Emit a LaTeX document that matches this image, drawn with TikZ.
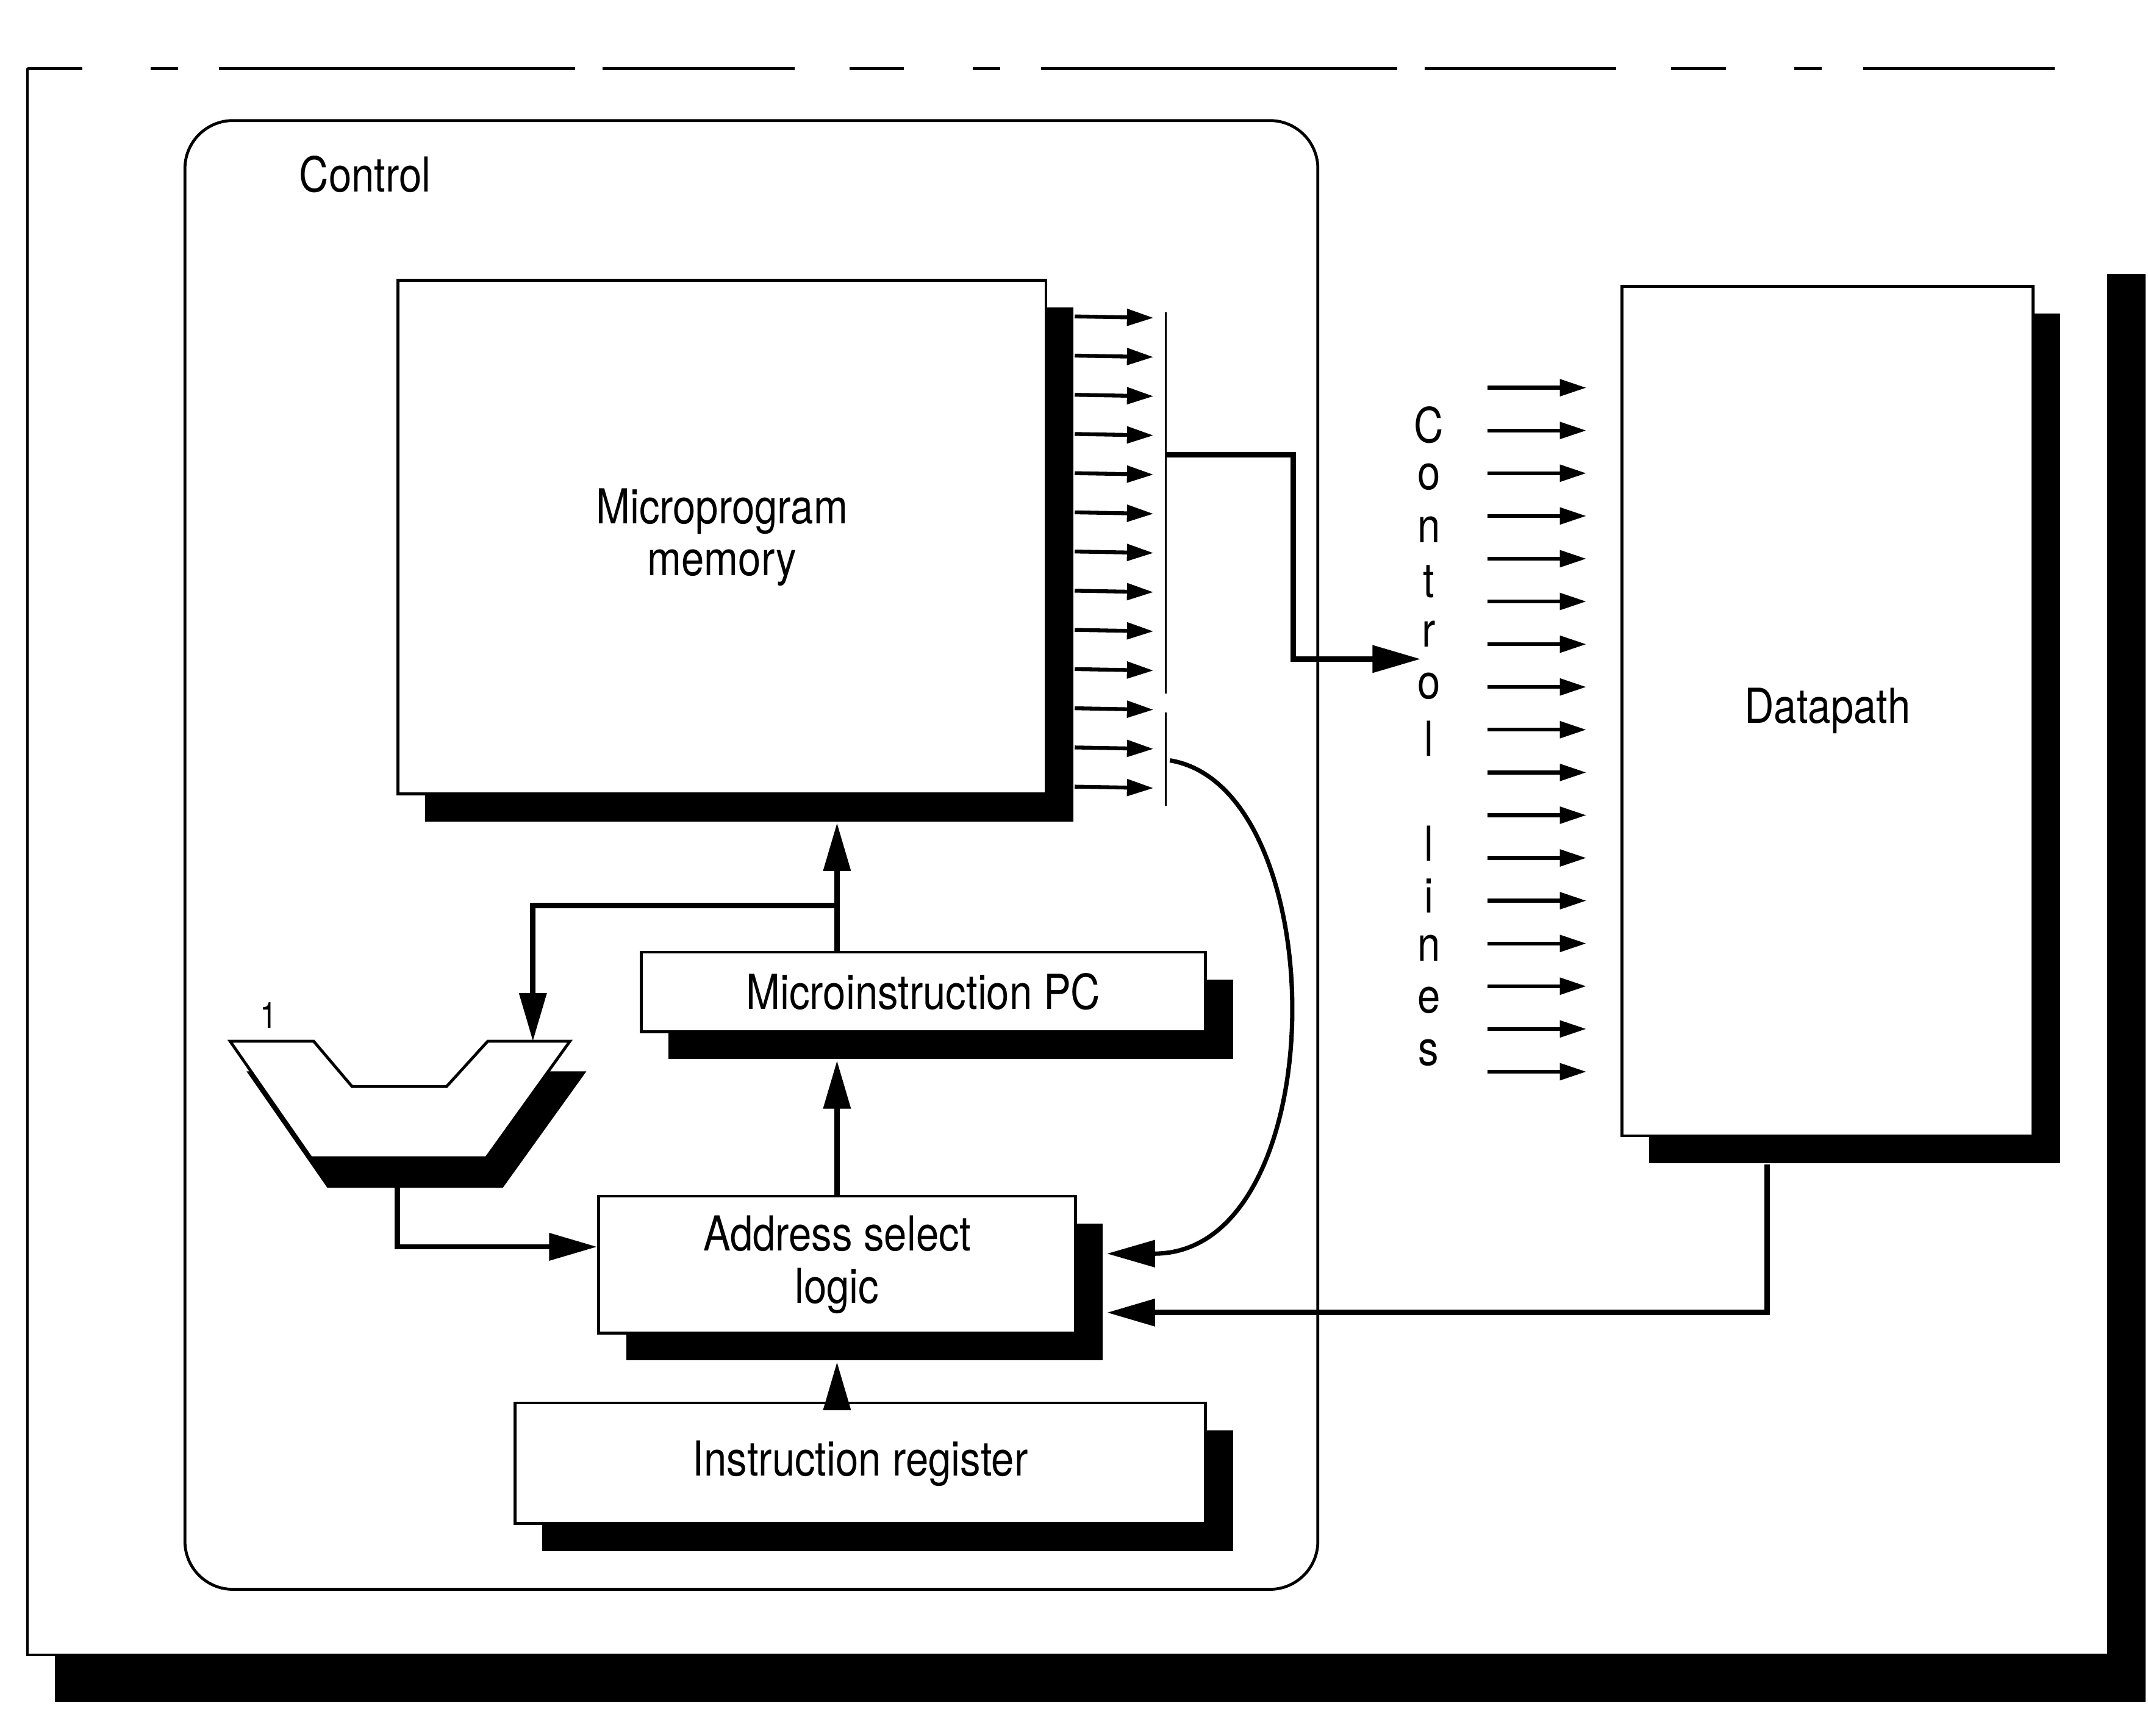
\documentclass[tikz,border=0pt]{standalone}
\usepackage{fontspec}
\setmainfont{TeX Gyre Heros}[FakeStretch=0.85]
\usetikzlibrary{arrows.meta, shadows, calc}

\newcommand{\mux}[2]{%
  % #1 = top left corner, #2 = shadow offset
  \begin{scope}[shift={#1}]
    \fill[black, shift={#2}]
      (0,0) -- (61,0) -- (89,33) -- (158,33) -- (188,0) -- (248,0) -- (187,85) -- (59,85) -- cycle;
    \draw[fill=white, line width=0.6pt]
      (0,0) -- (61,0) -- (89,33) -- (158,33) -- (188,0) -- (248,0) -- (187,85) -- (59,85) -- cycle;
  \end{scope}
}

\begin{document}
\begin{tikzpicture}[x=0.1mm, y=-0.1mm,
  every node/.style={font=\fontsize{10}{10.8}\selectfont},
  unit/.style={draw, line width=0.6pt, fill=white, inner sep=0pt, align=center,
               drop shadow={shadow xshift=2mm, shadow yshift=-2mm, fill=black, opacity=1}},
  wire/.style={line width=1.1pt, -{Triangle[length=10pt, width=5.5pt]}},
  ctlarrow/.style={line width=0.8pt, -{Triangle[length=5.5pt, width=3.4pt]}}]
\useasboundingbox (0,0) rectangle (1568,1267);

% --- outer frame --------------------------------------------------------------
\fill[black] (40,1208) rectangle (1566,1242);
\fill[black] (1538,200) rectangle (1566,1242);
\draw[line width=0.5pt] (1538,1208) -- (20,1208) -- (20,50);
\draw[line width=0.6pt, dash pattern=on 0.4cm off 0.5cm on 0.2cm off 0.3cm on 2.6cm off 0.2cm on 1.4cm off 0.4cm]
  (20,50) -- (1500,50);

% --- control unit -------------------------------------------------------------
\draw[line width=0.6pt, rounded corners=3.5mm] (135,88) rectangle (962,1160);
\node[anchor=west] (ctl) at (206,127) {Control};

\node[unit, minimum width=4.73cm, minimum height=3.75cm] (mem) at (527,392) {Microprogram\\memory};
\node[unit, minimum width=4.12cm, minimum height=0.58cm] (pc) at (674,724) {Microinstruction PC};
\node[unit, minimum width=3.48cm, minimum height=1.0cm] (asl) at (611,923) {Address select\\logic};
\node[unit, minimum width=5.04cm, minimum height=0.88cm] (ir) at (628,1068) {Instruction register};

\mux{(168,760)}{(12,22)}
\node[font=\fontsize{7.5}{9}\selectfont] (one) at (196,741) {1};
\coordinate (muxin) at (389,760);
\coordinate (muxout) at (290,867);

% microinstruction bits and the bus they feed
\coordinate (bustop) at (851,228);
\coordinate (busmid) at (851,506);
\coordinate (buslow) at (851,520);
\coordinate (busbot) at (851,588);
\draw[line width=0.5pt] (bustop) -- (busmid) (buslow) -- (busbot);
\foreach \i in {0,...,12}{
  \draw[ctlarrow] ($(mem.north east)+(20,27.5+28.6*\i)$) -- ($(bustop)+(-9,4+28.6*\i)$);
}

% --- datapath -----------------------------------------------------------------
\node[unit, minimum width=3.0cm, minimum height=6.2cm] (dp) at (1334,519) {Datapath};

\foreach \ch/\k in {C/0,o/1,n/2,t/3,r/4,o/5,l/6,l/8,i/9,n/10,e/11,s/12}{
  \node (cl\k) at (1043,310+38.2*\k) {\ch};
}
\foreach \i in {0,...,16}{
  \draw[ctlarrow] (1086,283+31.2*\i) -- (1158,283+31.2*\i);
}
\coordinate (ctlin) at (1037,481);

% --- connections --------------------------------------------------------------
\draw[wire] ($(bustop)+(0,104)$) -| (944,481) -- (ctlin);
\draw[wire, line width=0.9pt] ($(buslow)+(3,35)$) .. controls (975,575) and (975,915) .. ($(asl.east)+(22,-8)$);
\draw[wire] ($(dp.south)+(-44,20)$) |- ($(asl.east)+(22,35)$);

\draw[wire] (pc.north -| asl.north) -- ($(mem.south -| asl.north)+(0,20)$);
\draw[wire] (asl.north) -- ($(pc.south -| asl.north)+(0,20)$);
\draw[wire] (ir.north -| asl.south) -- ($(asl.south)+(0,20)$);
\coordinate (junc) at ($(pc.north -| asl.north)+(0,-33)$);
\draw[wire] (junc) -| (muxin);
\draw[wire] (muxout) |- ($(asl.west)+(0,-13)$);

\end{tikzpicture}
\end{document}
